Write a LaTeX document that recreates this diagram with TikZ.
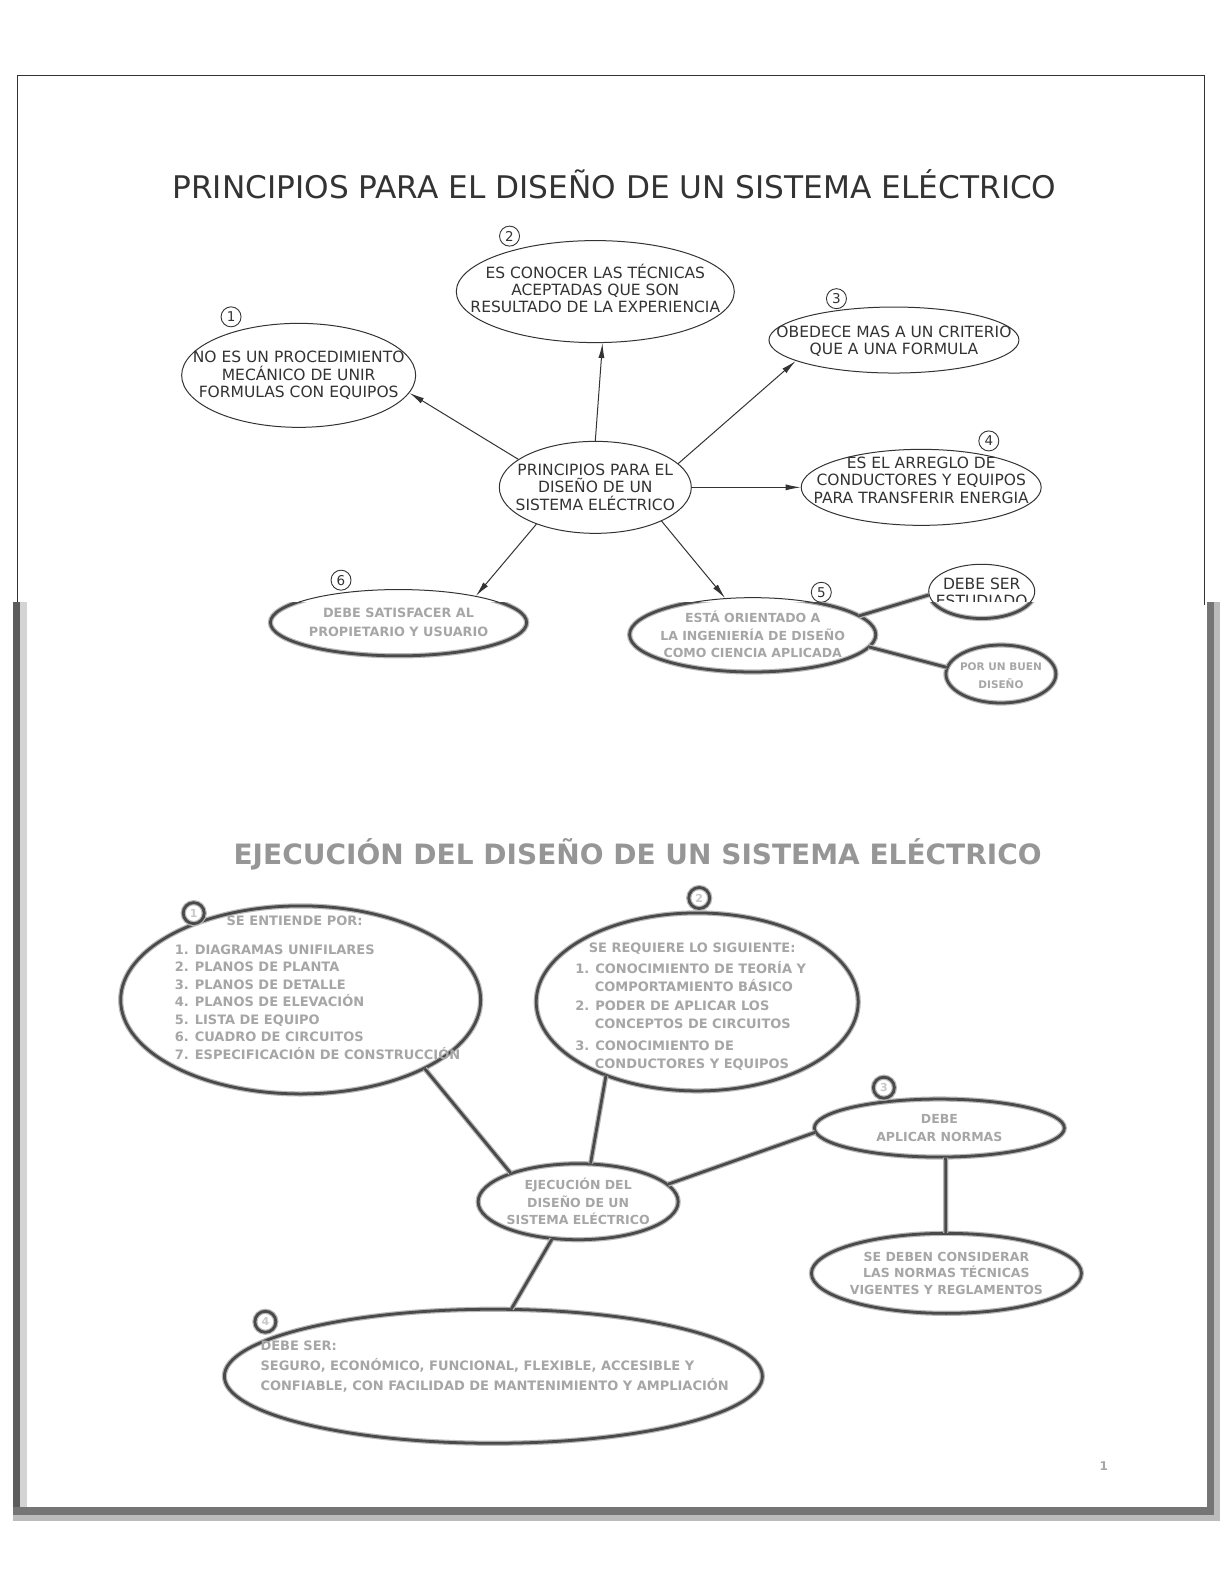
\documentclass[tikz,border=0pt]{standalone}
\usepackage{fontspec}
\setmainfont{DejaVu Sans}
\usetikzlibrary{shapes.geometric,arrows.meta}
\definecolor{ink}{HTML}{333333}
\definecolor{pixtxt}{HTML}{A6A6A6}
\definecolor{pixdark}{HTML}{4A4A4A}
\definecolor{pixhalo}{HTML}{B8B8B8}
\definecolor{titlegray}{HTML}{969696}
\definecolor{framedark}{HTML}{5C5C5C}
\definecolor{framelight}{HTML}{D4D4D4}
\definecolor{tagtxt}{HTML}{C8C8C8}
\begin{document}
\begin{tikzpicture}[x=1.009pt,y=-1.009pt,
  bubble/.style={ellipse, draw=ink, line width=1pt, inner sep=0pt},
  btext/.style={align=center, text=ink, inner sep=0pt, font=\fontsize{15.5}{17.2}\selectfont},
  gtext/.style={align=center, text=pixtxt, inner sep=0pt, font=\bfseries\fontsize{12.5}{17.5}\selectfont},
  numtag/.style={circle, draw=ink, line width=0.9pt, minimum size=20pt, inner sep=0pt, text=ink, fill=white, font=\fontsize{13.5}{13.5}\selectfont},
  arr/.style={draw=ink, line width=1pt, -{Latex[length=15pt,width=6pt]}},
  pixedge/.style={draw=pixhalo, double=pixdark, double distance=2.8pt, line width=1.2pt},
  pixbubble/.style={ellipse, pixedge, inner sep=0pt},
  pixtext/.style={text=pixtxt, font=\bfseries\fontsize{13}{17.5}\selectfont, inner sep=0pt},
  pixtag/.style={circle, pixedge, fill=white, minimum size=21pt, inner sep=0pt, text=tagtxt, font=\bfseries\fontsize{11}{11}\selectfont}
]
\useasboundingbox (0,0) rectangle (1213.1,1569.9);
\fill[white] (0,0) rectangle (1213.1,1569.9);

% ---- page frames
\draw[ink, line width=1pt] (17,600) -- (17,75) -- (1194,75) -- (1194,600);
\fill[framedark] (13,597) rectangle (20,1501);
\fill[framelight] (20,597) rectangle (27,1494);
\fill[framedark!85!white] (1196,597) rectangle (1203,1501);
\fill[framelight!88!black] (1203,597) rectangle (1209,1507);
\fill[framedark!85!white] (13,1494) rectangle (1203,1501);
\fill[framelight!88!black] (13,1501) rectangle (1209,1507);

% ---- upper map
\node[text=ink, font=\fontsize{31.2}{33}\selectfont, inner sep=0pt] (title1) at (609,183) {PRINCIPIOS PARA EL DISEÑO DE UN SISTEMA ELÉCTRICO};

\node[bubble, minimum width=192pt, minimum height=92pt, label={[btext]center:PRINCIPIOS PARA EL\\DISEÑO DE UN\\SISTEMA ELÉCTRICO}] (c) at (590,483) {};
\node[bubble, minimum width=234pt, minimum height=104pt, label={[btext]center:NO ES UN PROCEDIMIENTO\\MECÁNICO DE UNIR\\FORMULAS CON EQUIPOS}] (n1) at (296,372) {};
\node[bubble, minimum width=278pt, minimum height=102pt, label={[btext, yshift=3pt]center:ES CONOCER LAS TÉCNICAS\\ACEPTADAS QUE SON\\RESULTADO DE LA EXPERIENCIA}] (n2) at (590,289) {};
\node[bubble, minimum width=250pt, minimum height=66pt, label={[btext, yshift=-1pt]center:OBEDECE MAS A UN CRITERIO\\QUE A UNA FORMULA}] (n3) at (886,337) {};
\node[bubble, minimum width=240pt, minimum height=76pt, label={[btext, yshift=7pt]center:ES EL ARREGLO DE\\CONDUCTORES Y EQUIPOS\\PARA TRANSFERIR ENERGIA}] (n4) at (913,483) {};
\node[bubble, minimum width=244pt, minimum height=74pt, label={[gtext]center:ESTÁ ORIENTADO A\\LA INGENIERÍA DE DISEÑO\\COMO CIENCIA APLICADA}] (n5) at (746,629) {};
\node[bubble, minimum width=254pt, minimum height=66pt, label={[gtext, font=\bfseries\fontsize{12.8}{19}\selectfont]center:DEBE SATISFACER AL\\PROPIETARIO Y USUARIO}] (n6) at (395,617) {};
\node[bubble, minimum width=106pt, minimum height=54pt, label={[btext, yshift=-1pt]center:DEBE SER\\ESTUDIADO}] (debe) at (973,586) {};

\node[numtag] (t1) at (229,314) {1};
\node[numtag] (t2) at (505,234) {2};
\node[numtag] (t3) at (829,296) {3};
\node[numtag] (t4) at (980,437) {4};
\node[numtag] (t5) at (814,587) {5};
\node[numtag] (t6) at (338,575) {6};

\draw[arr] (c.160) -- (n1.351);
\draw[arr] (c.90) -- (n2.278);
\draw[arr] (c.16) -- (n3.192);
\draw[arr] (c.0) -- (n4.180);
\draw[arr] (c.333) -- (n5.127);
\draw[arr] (c.212) -- (n6.19);

% lower (pixelated) half of the upper map
\begin{scope}
  \clip (0,597) rectangle (1224,1584);
  \fill[white] (debe.center) ellipse [x radius=55, y radius=29];
  \draw[pixedge] (n5.center) ellipse [x radius=122, y radius=37];
  \draw[pixedge] (n6.center) ellipse [x radius=127, y radius=33];
  \draw[pixedge] (debe.center) ellipse [x radius=53, y radius=27];
\end{scope}
\node[pixbubble, minimum width=110pt, minimum height=58pt, label={[gtext, font=\bfseries\fontsize{10.5}{18}\selectfont, yshift=-2pt]center:POR UN BUEN\\DISEÑO}] (small) at (992,668) {};
\draw[pixedge] (n5.10) -- (debe.184);
\draw[pixedge] (n5.354) -- (small.173);

% ---- lower map
\node[text=titlegray, font=\bfseries\fontsize{28}{30}\selectfont, inner sep=0pt] (title2) at (632,847) {EJECUCIÓN DEL DISEÑO DE UN SISTEMA ELÉCTRICO};

\node[pixbubble, minimum width=360pt, minimum height=188pt] (a) at (298,991) {};
\node[pixtext] (ahead) at (292,913) {SE ENTIENDE POR:};
\node[pixtext, anchor=north west, align=left] (alist) at (173,936) {1. DIAGRAMAS UNIFILARES\\2. PLANOS DE PLANTA\\3. PLANOS DE DETALLE\\4. PLANOS DE ELEVACIÓN\\5. LISTA DE EQUIPO\\6. CUADRO DE CIRCUITOS\\7. ESPECIFICACIÓN DE CONSTRUCCIÓN};

\node[pixbubble, minimum width=322pt, minimum height=178pt] (b) at (691,993) {};
\node[pixtext] (bhead) at (686,940) {SE REQUIERE LO SIGUIENTE:};
\node[pixtext, anchor=north west, align=left] (blist) at (570,953) {1. CONOCIMIENTO DE TEORÍA Y\\\hspace*{1.5em}COMPORTAMIENTO BÁSICO\\[2pt]2. PODER DE APLICAR LOS\\\hspace*{1.5em}CONCEPTOS DE CIRCUITOS\\[5pt]3. CONOCIMIENTO DE\\\hspace*{1.5em}CONDUCTORES Y EQUIPOS};

\node[pixbubble, minimum width=200pt, minimum height=76pt, label={[gtext]center:EJECUCIÓN DEL\\DISEÑO DE UN\\SISTEMA ELÉCTRICO}] (cc) at (573,1191) {};
\node[pixbubble, minimum width=250pt, minimum height=58pt, label={[gtext]center:DEBE\\APLICAR NORMAS}] (d) at (931,1118) {};
\node[pixbubble, minimum width=270pt, minimum height=80pt, label={[gtext, font=\bfseries\fontsize{12.5}{16.5}\selectfont]center:SE DEBEN CONSIDERAR\\LAS NORMAS TÉCNICAS\\VIGENTES Y REGLAMENTOS}] (e) at (938,1262) {};
\node[pixbubble, minimum width=538pt, minimum height=134pt] (f) at (489,1364) {};
\node[pixtext, anchor=north west, align=left, font=\bfseries\fontsize{13}{20}\selectfont] (flist) at (258,1329) {DEBE SER:\\SEGURO, ECONÓMICO, FUNCIONAL, FLEXIBLE, ACCESIBLE Y\\CONFIABLE, CON FACILIDAD DE MANTENIMIENTO Y AMPLIACIÓN};

\node[pixtag] (ta) at (192,905) {1};
\node[pixtag] (tb) at (693,890) {2};
\node[pixtag] (td) at (876,1078) {3};
\node[pixtag] (tf) at (263,1310) {4};

\draw[pixedge] (a.331) -- (cc.157);
\draw[pixedge] (b.219) -- (cc.72);
\draw[pixedge] (cc.11) -- (d.182);
\draw[pixedge] (d.282) -- (e.91);
\draw[pixedge] (cc.235) -- (f.75);

\node[text=pixtxt, font=\bfseries\fontsize{12}{12}\selectfont, inner sep=0pt] (pg) at (1094,1453) {1};
\end{tikzpicture}
\end{document}
